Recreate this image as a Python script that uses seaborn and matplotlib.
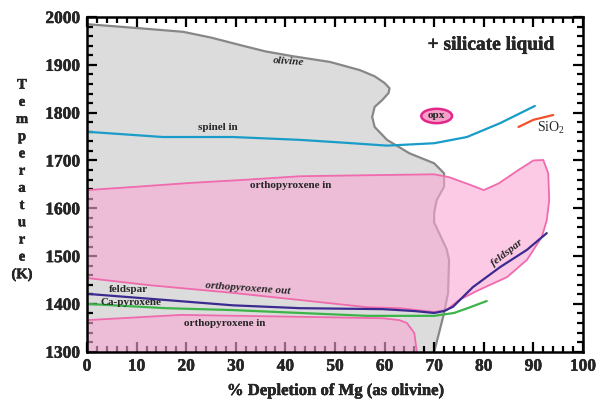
import numpy as np
import pandas as pd
import matplotlib
matplotlib.use("Agg")
import matplotlib.pyplot as plt
import matplotlib.patheffects as pe
from matplotlib import font_manager
from matplotlib.patches import Ellipse
from matplotlib.ticker import MultipleLocator
import seaborn as sns

# Olivine stability field: top liquidus line, then right-hand boundary down to 1300 K
olivine_x = [0, 10, 19.4, 25, 31, 36, 41.5, 49, 55, 58, 60, 61, 60.8, 59.5, 58, 57.5, 58,
             60.5, 65, 70, 72, 72, 70.5, 70, 70, 71, 72.5, 73, 72.8, 72, 71, 70]
olivine_t = [1985, 1977, 1969, 1957, 1941, 1928, 1918, 1906, 1889, 1876, 1862, 1851, 1841,
             1826, 1812, 1791, 1770, 1743, 1715, 1694, 1673, 1645, 1617, 1590, 1570, 1548,
             1515, 1492, 1423, 1381, 1340, 1300]

# Orthopyroxene field (upper): "orthopyroxene in" on top, loop to the right, "orthopyroxene out" below
opx_x = [0, 10, 20.8, 31, 43, 56, 70, 73, 77, 80, 83, 87, 90, 92, 93, 93.2, 92.7, 91.7,
         88.7, 84.7, 79, 75, 72.5, 70, 63, 56.5, 43, 29.4, 12.7, 0]
opx_t = [1638, 1645, 1653, 1659, 1667, 1669, 1671, 1665, 1650, 1638, 1652, 1680, 1700,
         1701, 1673, 1617, 1575, 1540, 1492, 1456, 1429, 1408, 1387, 1383, 1391, 1393,
         1408, 1423, 1439, 1454]

# Orthopyroxene field (lower)
opx_low_x = [0, 0, 19, 43, 59.7, 63, 64.5, 66, 66.5]
opx_low_t = [1300, 1366, 1377, 1373, 1370, 1366, 1360, 1339, 1300]

spinel_x = [0, 15.3, 29.4, 43, 52, 60.5, 70, 76.6, 83.3, 90.3]
spinel_t = [1760, 1749, 1749, 1743, 1737, 1731, 1736, 1749, 1778, 1814]

sio2_x = [87, 90, 94]
sio2_t = [1770, 1785, 1795]

feldspar_x = [0, 16, 29.4, 43, 59.7, 66, 70, 72, 73.8, 77.8, 83.3, 88.7, 92.7]
feldspar_t = [1421, 1408, 1397, 1391, 1389, 1385, 1381, 1385, 1394, 1435, 1477, 1513, 1548]

capx_x = [0, 16, 29.4, 43, 56.5, 70, 74, 77, 80.6]
capx_t = [1400, 1391, 1387, 1381, 1375, 1375, 1381, 1392, 1406]

sns.set_theme(style="ticks")
plt.rcParams["font.family"] = ["Liberation Serif", "DejaVu Serif"]
plt.rcParams["mathtext.fontset"] = "custom"
plt.rcParams["mathtext.rm"] = "Liberation Serif"

# thicken the bold text a little (the original uses a heavy Times bold)
bold_file = font_manager.findfont(font_manager.FontProperties(family="Liberation Serif",
                                                              weight="bold"))
heavy = 0.3 if "Bold" in bold_file else 0.6
fx = [pe.withStroke(linewidth=heavy, foreground="black")]

fig = plt.figure(figsize=(5.97, 4.03), dpi=100)
ax = fig.add_axes([0.1457, 0.1273, 0.8308, 0.8305])
ax.set_axisbelow(False)

# olivine field
ax.fill(olivine_x + [0], olivine_t + [1300], color="#dcdcdc", lw=0, zorder=1)
sns.lineplot(x=olivine_x, y=olivine_t, sort=False, estimator=None, color="#878787",
             lw=1.6, ax=ax, zorder=2)

# orthopyroxene fields
ax.fill(opx_x, opx_t, facecolor="#faa8d4", alpha=0.6, edgecolor="none", zorder=3)
ax.fill(opx_low_x, opx_low_t, facecolor="#faa8d4", alpha=0.6, edgecolor="none", zorder=3)
sns.lineplot(x=opx_x, y=opx_t, sort=False, estimator=None, color="#f06aae", lw=1.3,
             ax=ax, zorder=4)
sns.lineplot(x=opx_low_x, y=opx_low_t, sort=False, estimator=None, color="#f06aae",
             lw=1.3, ax=ax, zorder=4)

# phase boundaries
sns.lineplot(x=spinel_x, y=spinel_t, sort=False, estimator=None, color="#1a9cc9",
             lw=1.6, ax=ax, zorder=5)
sns.lineplot(x=sio2_x, y=sio2_t, sort=False, estimator=None, color="#f2502a",
             lw=1.6, ax=ax, zorder=5)
sns.lineplot(x=capx_x, y=capx_t, sort=False, estimator=None, color="#3cb44a",
             lw=1.6, ax=ax, zorder=5)
sns.lineplot(x=feldspar_x, y=feldspar_t, sort=False, estimator=None, color="#3b2b91",
             lw=1.6, ax=ax, zorder=6)

# labels
kw = dict(fontsize=8, fontweight="bold", ha="center", va="center", zorder=7)
ax.text(40.7, 1906, "olivine", style="italic", rotation=-4, **kw)
ax.text(26.4, 1768, "spinel in", **kw)
ax.text(41, 1648, "orthopyroxene in", **kw)
ax.text(32.5, 1433, "orthopyroxene out", style="italic", rotation=-4, **kw)
ax.text(8.3, 1431, "feldspar", **kw)
ax.text(8.9, 1402, "Ca-pyroxene", **kw)
ax.text(27.8, 1360, "orthopyroxene in", **kw)
ax.text(84.7, 1506, "feldspar", style="italic", rotation=38, **kw)
ax.text(93.6, 1768, r"SiO$_2$", fontsize=10, ha="center", va="center", zorder=7)
ax.text(81.5, 1941, "+ silicate liquid", fontsize=14, fontweight="bold",
        ha="center", va="center", zorder=7, path_effects=fx)
ax.add_patch(Ellipse((70.5, 1793), 6.2, 30, facecolor="#f5a0c8", edgecolor="#e3268c",
                     lw=1.8, zorder=7))
ax.text(70.5, 1793, "opx", fontsize=8, fontweight="bold", ha="center", va="center", zorder=8)

ax.set_xlim(0, 100)
ax.set_ylim(1300, 2000)
ax.set_xticks(range(0, 101, 10))
ax.set_yticks(range(1300, 2001, 100))
ax.xaxis.set_minor_locator(MultipleLocator(2))
ax.yaxis.set_minor_locator(MultipleLocator(20))
ax.tick_params(which="both", direction="in", top=True, right=True, color="black",
               width=1.6, labelsize=12.5, pad=5)
ax.tick_params(which="major", length=7)
ax.tick_params(which="minor", length=4)
for lab in ax.get_xticklabels() + ax.get_yticklabels():
    lab.set_fontweight("bold")
    lab.set_path_effects(fx)
for sp in ax.spines.values():
    sp.set_linewidth(1.8)
    sp.set_color("black")
    sp.set_visible(True)
    sp.set_zorder(10)

ax.set_xlabel("% Depletion of Mg (as olivine)", fontsize=12, fontweight="bold", labelpad=6,
              path_effects=fx)
ax.set_ylabel("")
fig.text(22 / 597, 1 - 180 / 403, "\n".join(list("Temperature")) + "\n(K)", fontsize=10.5,
         fontweight="bold", ha="center", va="center", linespacing=1.42, path_effects=fx)

fig.savefig("out.png", dpi=100)
